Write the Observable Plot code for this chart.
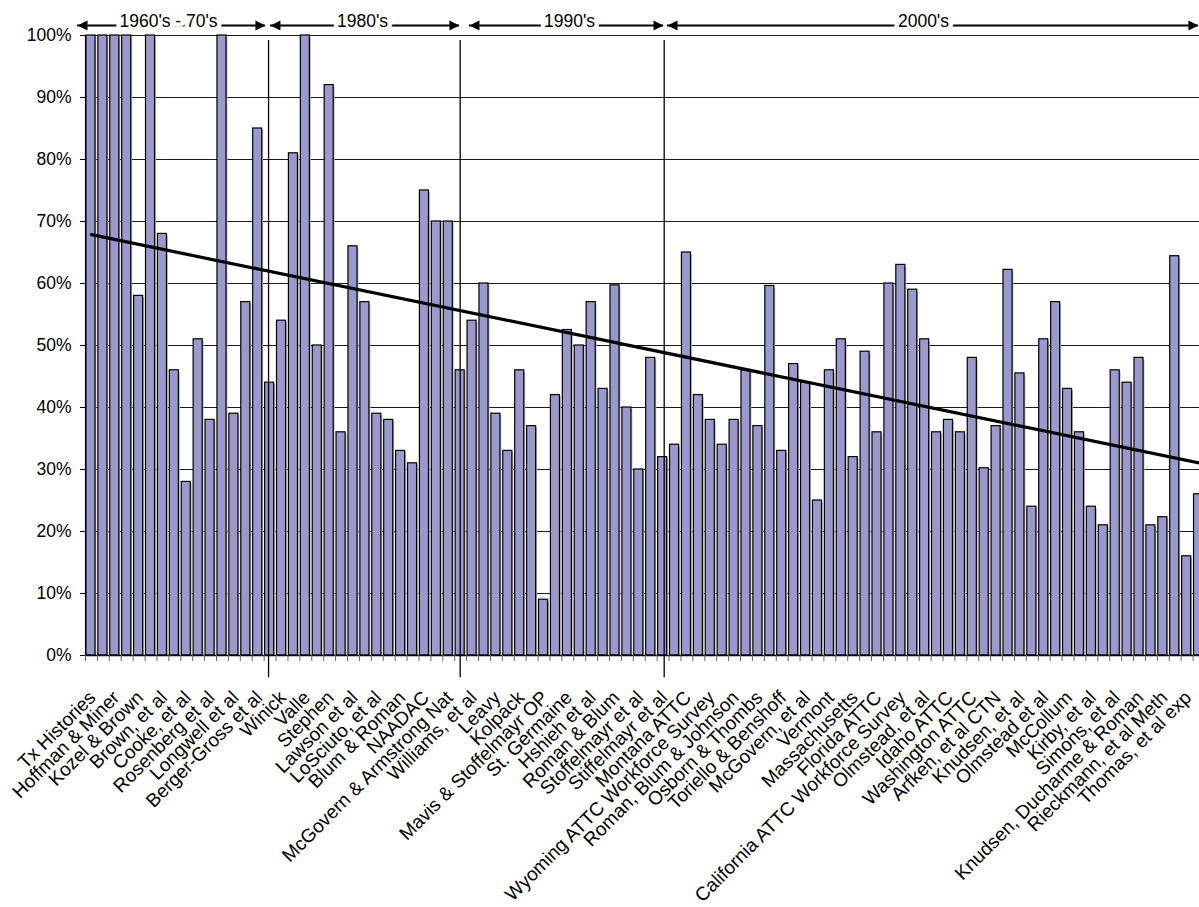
<!DOCTYPE html>
<html>
<head>
<meta charset="utf-8">
<script src="https://cdn.jsdelivr.net/npm/d3@7"></script>
<script src="https://cdn.jsdelivr.net/npm/@observablehq/plot@0.6"></script>
<style>
  html, body { margin: 0; padding: 0; background: #fff; overflow: hidden; }
  #chart svg { display: block; }
</style>
</head>
<body>
<div id="chart"></div>
<script>
// Category labels (Excel shows every other category name)
const labels = [
  "Tx Histories", "Hoffman & Miner", "Kozel & Brown", "Brown, et al", "Cooke, et al",
  "Rosenberg et al", "Longwell et al", "Berger-Gross et al", "Winick", "Valle",
  "Stephen", "Lawson et al", "LoSciuto, et al", "Blum & Roman", "NAADAC",
  "McGovern & Armstrong Nat", "Williams, et al", "Leavy", "Kolpack", "Mavis & Stoffelmayr OP",
  "St. Germaine", "Hshieh et al", "Roman & Blum", "Stoffelmayr et al", "Stiffelmayr et al",
  "Montana ATTC", "Wyoming ATTC Workforce Survey", "Roman, Blum & Johnson", "Osborn & Thombs", "Toriello & Benshoff",
  "McGovern, et al", "Vermont", "Massachusetts", "Florida ATTC", "California ATTC Workforce Survey",
  "Olmstead, et al", "Idaho ATTC", "Washington ATTC", "Arfken, et al CTN", "Knudsen, et al",
  "Olmstead et al", "McCollum", "Kirby, et al", "Simons, et al", "Knudsen, Ducharme & Roman",
  "Rieckmann, et al Meth", "Thomas, et al exp"
];

// Bar values (percent), one per study, in order
const values = [
  100, 100, 100, 100, 58, 100, 68, 46, 28, 51,
  38, 100, 39, 57, 85, 44, 54, 81, 100, 50,
  92, 36, 66, 57, 39, 38, 33, 31, 75, 70,
  70, 46, 54, 60, 39, 33, 46, 37, 9, 42,
  52.5, 50, 57, 43, 59.7, 40, 30, 48, 32, 34,
  65, 42, 38, 34, 38, 46, 37, 59.6, 33, 47,
  44, 25, 46, 51, 32, 49, 36, 60, 63, 59,
  51, 36, 38, 36, 48, 30.2, 37, 62.2, 45.5, 24,
  51, 57, 43, 36, 24, 21, 46, 44, 48, 21,
  22.3, 64.4, 16, 26
];

const yTicks = [0, 10, 20, 30, 40, 50, 60, 70, 80, 90, 100];

// Decade annotations (in category-slot units)
const decadeLabels = ["1960's - 70's", "1980's", "1990's", "2000's"];
const decadeStart = [-0.67, 15.53, 32.24, 48.87];
const decadeEnd = [15.11, 31.40, 48.53, 93.45];
const decadeMid = [6.97, 23.26, 40.64, 70.36];
const separators = [15.37, 31.46, 48.59];

const bars = values.map((v, i) => ({i, v}));
const labelData = labels.map((name, k) => ({i: 2 * k, name}));
const decades = decadeLabels.map((label, k) => ({label, start: decadeStart[k], end: decadeEnd[k], mid: decadeMid[k]}));

const headRight = {draw(ctx) { ctx.moveTo(0, 0); ctx.lineTo(-10, -5); ctx.lineTo(-10, 5); ctx.closePath(); }};
const headLeft = {draw(ctx) { ctx.moveTo(0, 0); ctx.lineTo(10, -5); ctx.lineTo(10, 5); ctx.closePath(); }};

const FONT = 17.5;
const XFONT = 19;

const chart = Plot.plot({
  width: 1199,
  height: 907,
  marginTop: 35,
  marginLeft: 85,
  marginRight: 0,
  marginBottom: 252,
  style: {fontFamily: "'Liberation Sans', Arial, sans-serif", fontSize: FONT + "px", color: "black", background: "white"},
  x: {domain: [0, 94], range: [85, 1204.5], axis: null},
  y: {domain: [0, 100], axis: null},
  marks: [
    Plot.ruleY(yTicks, {stroke: "#1a1a1a", strokeWidth: 1}),
    // bar shadows
    Plot.rectY(bars, {x1: d => d.i + 0.84, x2: d => d.i + 0.96, y: "v", fill: "#b8b8b8", insetTop: 2}),
    Plot.rectY(bars, {x1: d => d.i + 0.08, x2: d => d.i + 0.84, y: "v", fill: "#9999cc", stroke: "black", strokeWidth: 1.2}),
    Plot.ruleY([0], {stroke: "black", strokeWidth: 1.5}),
    Plot.ruleX([0], {stroke: "black", strokeWidth: 1.2}),
    Plot.axisY(yTicks, {tickFormat: d => d + "%", tickSize: 5, tickPadding: 9, fontSize: FONT, stroke: "black", fill: "black", label: null}),
    Plot.axisX(d3.range(0, 95), {tickSize: 6, tickFormat: () => "", stroke: "#666", label: null}),
    Plot.linearRegressionY(bars, {x: d => d.i + 0.5, y: "v", stroke: "black", strokeWidth: 3.2, ci: 0}),
    Plot.ruleX(separators, {x: d => d, y1: () => -3.6, y2: () => 99.2, stroke: "black", strokeWidth: 1.3}),
    Plot.text(labelData, {x: d => d.i + 0.5, y: () => 0, text: "name", rotate: -45, textAnchor: "end", dx: 1, dy: 39, fontSize: XFONT, fill: "black"}),
    // decade arrows
    Plot.ruleY(decades, {x1: "start", x2: "end", y: () => 100, dy: -10, stroke: "black", strokeWidth: 2}),
    Plot.dot(decades, {x: "start", y: () => 100, dy: -10, symbol: headLeft, r: 5, fill: "black", stroke: "none"}),
    Plot.dot(decades, {x: "end", y: () => 100, dy: -10, symbol: headRight, r: 5, fill: "black", stroke: "none"}),
    Plot.text(decades, {x: "mid", y: () => 100, dy: -14.5, text: "label", fontSize: FONT, fill: "black", stroke: "white", strokeWidth: 9, paintOrder: "stroke"})
  ]
});
document.getElementById("chart").appendChild(chart);
</script>
</body>
</html>
